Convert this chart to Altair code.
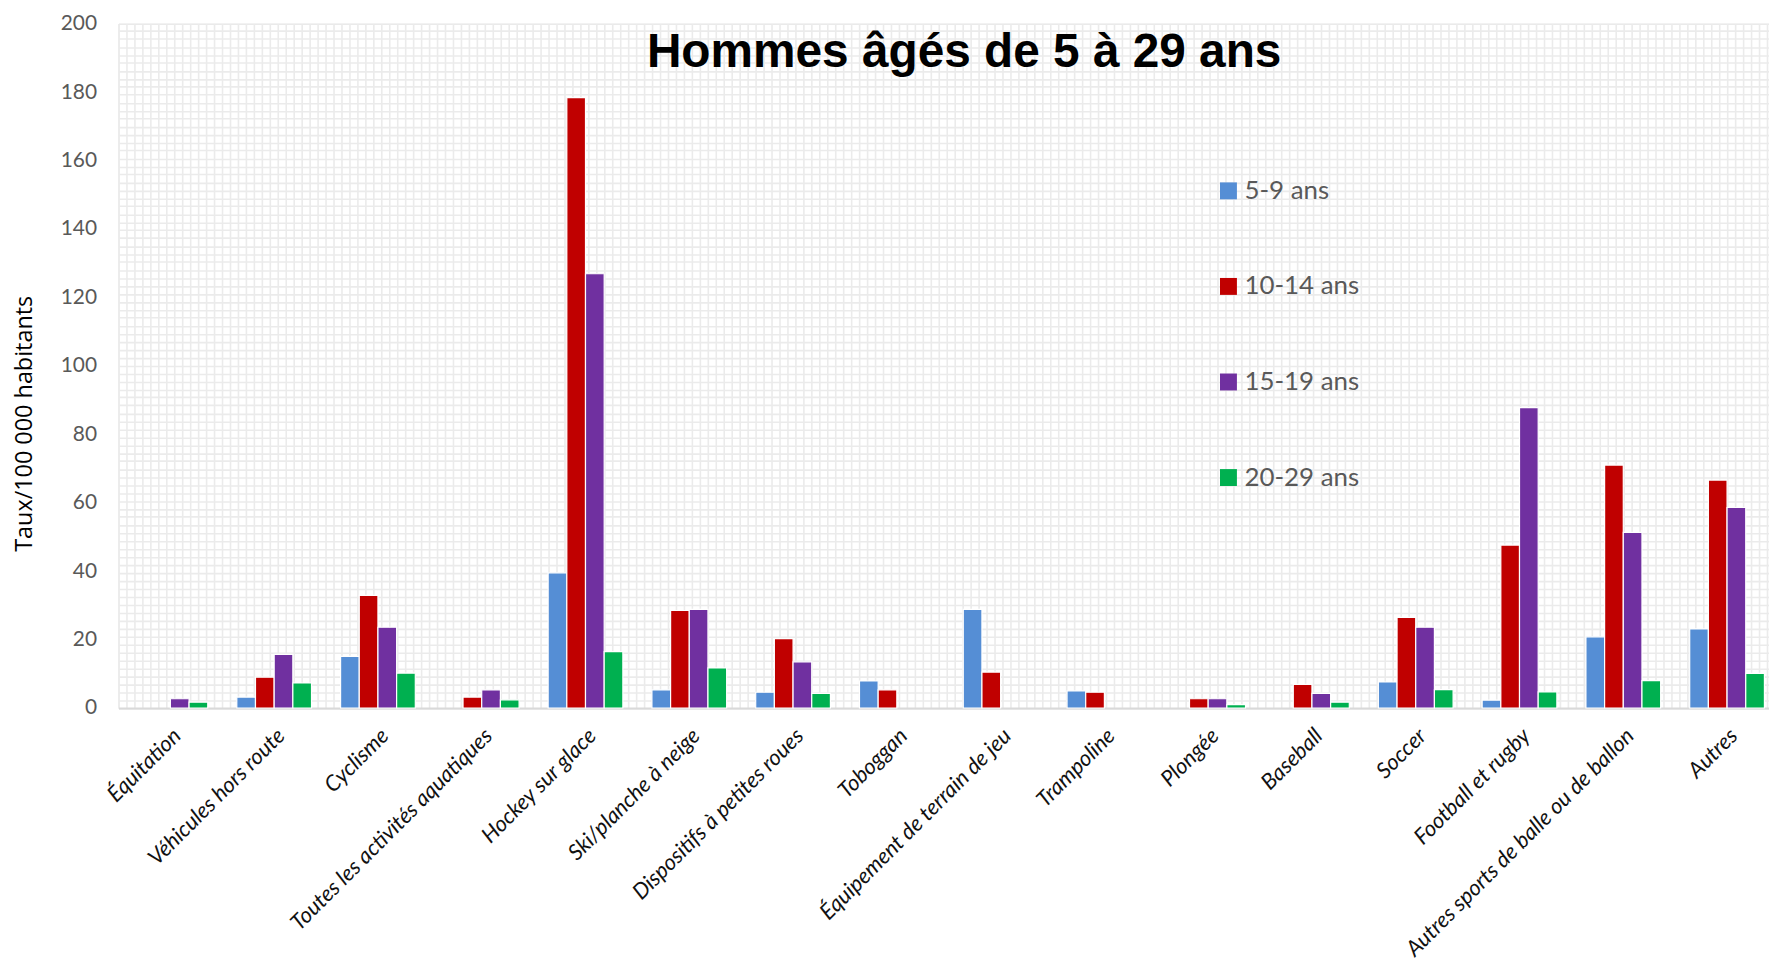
import altair as alt
import pandas as pd

categories = ["Équitation", "Véhicules hors route", "Cyclisme", "Toutes les activités aquatiques",
              "Hockey sur glace", "Ski/planche à neige", "Dispositifs à petites roues", "Toboggan",
              "Équipement de terrain de jeu", "Trampoline", "Plongée", "Baseball", "Soccer",
              "Football et rugby", "Autres sports de balle ou de ballon", "Autres"]
ages = ["5-9 ans", "10-14 ans", "15-19 ans", "20-29 ans"]
colors = ["#558ED5", "#C00000", "#7030A0", "#00B050"]
title_text = "Hommes âgés de 5 à 29 ans"

age_5_9 = [0, 3.2, 15.1, 0, 39.5, 5.3, 4.6, 7.9, 28.8, 5.0, 0, 0, 7.6, 2.3, 20.8, 23.1]
age_10_14 = [0, 9.0, 32.9, 3.2, 178.4, 28.5, 20.3, 5.3, 10.5, 4.6, 2.7, 6.9, 26.5, 47.6, 71.0, 66.6]
age_15_19 = [2.7, 15.7, 23.6, 5.3, 126.9, 28.8, 13.5, 0, 0, 0, 2.7, 4.3, 23.6, 87.8, 51.3, 58.6]
age_20_29 = [1.7, 7.3, 10.2, 2.4, 16.5, 11.7, 4.3, 0, 0, 0, 1.0, 1.7, 5.4, 4.7, 8.0, 10.1]

series = [age_5_9, age_10_14, age_15_19, age_20_29]
rows = []
for age, vals in zip(ages, series):
    for cat, v in zip(categories, vals):
        rows.append({"cat": cat, "age": age, "v": v})
df = pd.DataFrame(rows)

W = 1668
H = 687.5

bg_data = pd.DataFrame({"bx": [0], "by": [0], "t": [title_text]})

bg = alt.Chart(bg_data).mark_point(opacity=0).encode(
    x=alt.X("bx:Q", scale=alt.Scale(domain=[0, W], nice=False, zero=False),
            axis=alt.Axis(orient="top", values=list(range(0, W + 1, 8)), grid=True,
                          gridColor="#ebebeb", gridWidth=1.6, labels=False, ticks=False,
                          domain=False, title=None)),
    y=alt.Y("by:Q", scale=alt.Scale(domain=[0, H], nice=False, zero=False),
            axis=alt.Axis(orient="right", values=[i * 8 for i in range(int(H // 8) + 1)], grid=True,
                          gridColor="#ebebeb", gridWidth=1.6, labels=False, ticks=False,
                          domain=False, title=None)),
)

title = alt.Chart(bg_data).mark_text(font="Liberation Sans", fontSize=48, fontWeight="bold",
                                     color="#000000", align="center", baseline="alphabetic").encode(
    text="t:N", x=alt.value(849.5), y=alt.value(44))

bars = alt.Chart(df).transform_filter("datum.v > 0").mark_bar(stroke="white", strokeWidth=1.2).encode(
    x=alt.X("cat:N", sort=categories,
            scale=alt.Scale(paddingInner=0.28, paddingOuter=0.14),
            axis=alt.Axis(orient="bottom", title=None, labelAngle=-45, labelAlign="right",
                          labelBaseline="middle", labelPadding=24, labelOffset=7, labelFont="Lato",
                          labelFontStyle="italic", labelFontSize=22, labelColor="#111111",
                          ticks=False, domainColor="#d9d9d9", domainWidth=2, grid=False,
                          labelLimit=600)),
    xOffset=alt.XOffset("age:N", sort=ages, scale=alt.Scale(domain=ages, paddingInner=0, paddingOuter=0)),
    y=alt.Y("v:Q", scale=alt.Scale(domain=[0, 200], nice=False),
            axis=alt.Axis(orient="left", values=list(range(0, 201, 20)), grid=False, ticks=False,
                          domain=False, labelFont="Lato", labelFontSize=21, labelColor="#595959",
                          labelPadding=22, title="Taux/100 000 habitants", titleFont="Open Sans",
                          titleFontSize=23.5, titleFontWeight="normal", titleColor="#000000",
                          titleX=-94, titleY=401.5, titleAngle=270, titleAlign="center",
                          titleBaseline="middle")),
    color=alt.Color("age:N", sort=ages, scale=alt.Scale(domain=ages, range=colors),
                    legend=alt.Legend(orient="none", legendX=1102, legendY=155, title=None,
                                      symbolType="square", symbolSize=289, symbolStrokeWidth=0,
                                      labelFontSize=26, labelFont="Lato", labelColor="#595959",
                                      rowPadding=70, labelOffset=3, padding=0)),
)

chart = alt.layer(bg, bars, title).resolve_scale(x="independent", y="independent").properties(
    width=W, height=H,
    padding={"left": 111, "top": 13.5, "right": -10, "bottom": 262},
    autosize=alt.AutoSizeParams(type="none"),
).configure_view(stroke=None, fill="white").configure(background="white")

chart.save("out.html", embed_options={"renderer": "svg", "actions": False})
